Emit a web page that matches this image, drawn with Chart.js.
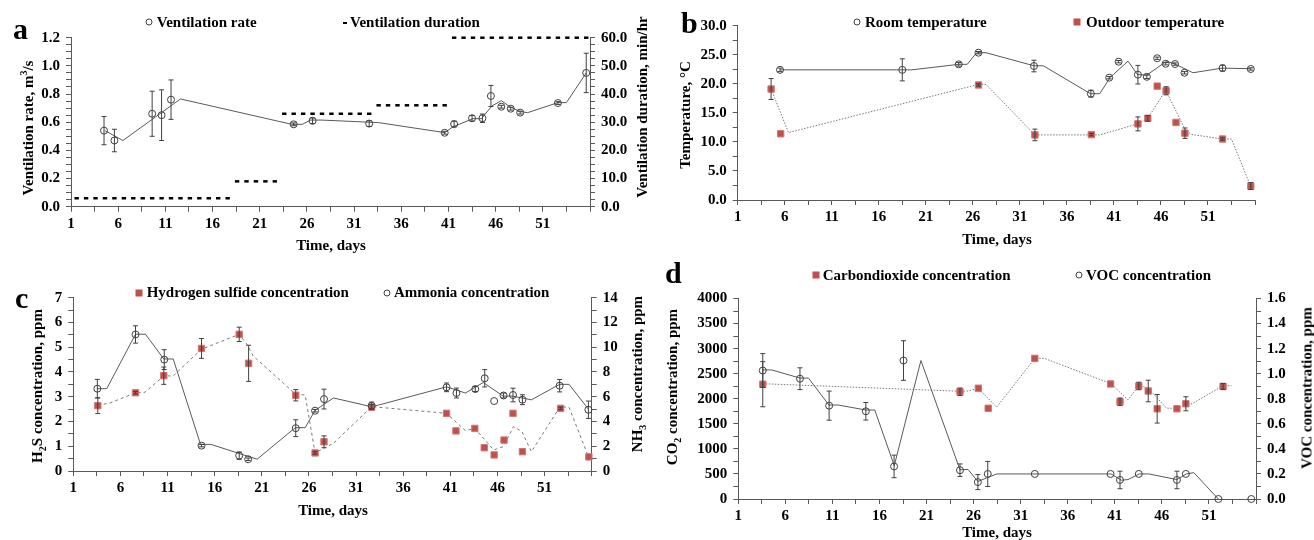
<!DOCTYPE html>
<html>
<head>
<meta charset="utf-8">
<script src="https://cdn.jsdelivr.net/npm/chart.js@4.4.1/dist/chart.umd.min.js"></script>
<style>
  body { margin: 0; background: #fff; }
  #wrap { position: relative; width: 1314px; height: 540px; overflow: hidden;
          font-family: "Liberation Serif", "Times New Roman", serif; font-weight: bold; color: #000; }
  canvas { position: absolute; }
  .t { position: absolute; font-size: 15px; line-height: 1; white-space: nowrap; }
  .h { transform: translateY(-50%); }
  .c { transform: translate(-50%, -50%); }
  .v { transform: translate(-50%, -50%) rotate(-90deg); }
  .letter { position: absolute; font-size: 30px; line-height: 1; }
  .mk { position: absolute; box-sizing: border-box; transform: translate(-50%, -50%); }
  .circ { width: 7px; height: 7px; border: 1px solid #404040; border-radius: 50%; }
  .sq { width: 7px; height: 7px; background: #c0504d; }
  .dash { width: 4px; height: 2px; background: #000; }
  sub, sup { font-size: 10px; line-height: 0; }
</style>
</head>
<body>
<div id="wrap">
  <canvas id="ca" width="660" height="240" style="left:0;top:0"></canvas>
  <canvas id="cb" width="654" height="240" style="left:660px;top:0"></canvas>
  <canvas id="cc" width="660" height="240" style="left:0;top:270px"></canvas>
  <canvas id="cd" width="654" height="270" style="left:660px;top:270px"></canvas>

  <!-- a -->
  <div class="letter" style="left:13px;top:14px">a</div>
  <div class="mk circ" style="left:149px;top:21.7px"></div>
  <div class="t h" style="left:156.7px;top:21.7px">Ventilation rate</div>
  <div class="mk dash" style="left:344.5px;top:22.7px"></div>
  <div class="t h" style="left:350px;top:21.7px">Ventilation duration</div>
  <div class="t v" style="left:28px;top:128px">Ventilation rate, m<sup>3</sup>/s</div>
  <div class="t v" style="left:641.5px;top:107px">Ventilation duration, min/hr</div>
  <div class="t c" style="left:331px;top:244.5px">Time, days</div>

  <!-- b -->
  <div class="letter" style="left:681px;top:8px">b</div>
  <div class="mk circ" style="left:857.3px;top:21.7px"></div>
  <div class="t h" style="left:865px;top:21.7px">Room temperature</div>
  <div class="mk sq" style="left:1077.3px;top:21.7px"></div>
  <div class="t h" style="left:1086px;top:21.7px">Outdoor temperature</div>
  <div class="t v" style="left:685px;top:115px">Temperature, °C</div>
  <div class="t c" style="left:997px;top:239px">Time, days</div>

  <!-- c -->
  <div class="letter" style="left:15px;top:283px">c</div>
  <div class="mk sq" style="left:139.3px;top:292.7px"></div>
  <div class="t h" style="left:146.7px;top:292px">Hydrogen sulfide concentration</div>
  <div class="mk circ" style="left:386.7px;top:292.7px"></div>
  <div class="t h" style="left:394px;top:292px">Ammonia concentration</div>
  <div class="t v" style="left:37.3px;top:386px">H<sub>2</sub>S concentration, ppm</div>
  <div class="t v" style="left:637px;top:374px">NH<sub>3</sub> concentration, ppm</div>
  <div class="t c" style="left:333px;top:510px">Time, days</div>

  <!-- d -->
  <div class="letter" style="left:665px;top:258px">d</div>
  <div class="mk sq" style="left:815.7px;top:275px"></div>
  <div class="t h" style="left:822.7px;top:275px">Carbondioxide concentration</div>
  <div class="mk circ" style="left:1079.3px;top:275px"></div>
  <div class="t h" style="left:1086px;top:275px">VOC concentration</div>
  <div class="t v" style="left:671.7px;top:387px">CO<sub>2</sub> concentration, ppm</div>
  <div class="t v" style="left:1307px;top:388px">VOC concentration, ppm</div>
  <div class="t c" style="left:997px;top:532px">Time, days</div>
</div>

<script>
// ---------- a: ventilation ----------
const rateDays = [4.5, 5.6, 9.6, 10.6, 11.6, 24.6, 26.6, 32.6, 40.6, 41.6, 43.5, 44.6, 45.5, 46.6, 47.6, 48.6, 52.6, 55.6];
const rateVals = [0.54, 0.47, 0.66, 0.65, 0.76, 0.585, 0.61, 0.59, 0.525, 0.587, 0.628, 0.628, 0.786, 0.71, 0.696, 0.668, 0.736, 0.95];
const rateErr  = [0.10, 0.08, 0.16, 0.18, 0.14, 0.01, 0.02, 0.02, 0.01, 0.02, 0.02, 0.03, 0.075, 0.01, 0.01, 0.01, 0.01, 0.14];
const rateLineDays = [4.6, 6.5, 12.6, 24.4, 25.5, 26.4, 27.6, 33.6, 40.6, 41.5, 43.6, 44.5, 45.6, 46.6, 47.5, 48.6, 49.4, 52.6, 53.5, 55.6];
const rateLineVals = [0.54, 0.47, 0.765, 0.585, 0.585, 0.615, 0.615, 0.597, 0.526, 0.568, 0.625, 0.625, 0.715, 0.753, 0.71, 0.675, 0.668, 0.739, 0.739, 0.95];
const durDays = [1.6, 2.6, 3.6, 4.6, 5.6, 6.6, 7.6, 8.6, 9.6, 10.6, 11.6, 12.6, 13.6, 14.6, 15.6, 16.6, 17.6,
                 18.6, 19.6, 20.6, 21.6, 22.6,
                 23.6, 24.6, 25.6, 26.6, 27.6, 28.6, 29.6, 30.6, 31.6, 32.6,
                 33.6, 34.6, 35.6, 36.6, 37.6, 38.6, 39.6, 40.6,
                 41.6, 42.6, 43.6, 44.6, 45.6, 46.6, 47.6, 48.6, 49.6, 50.6, 51.6, 52.6, 53.6, 54.6, 55.6];
const durVals = [3, 3, 3, 3, 3, 3, 3, 3, 3, 3, 3, 3, 3, 3, 3, 3, 3,
                 9, 9, 9, 9, 9,
                 33, 33, 33, 33, 33, 33, 33, 33, 33, 33,
                 36, 36, 36, 36, 36, 36, 36, 36,
                 60, 60, 60, 60, 60, 60, 60, 60, 60, 60, 60, 60, 60, 60, 60];

// ---------- b: temperature ----------
const roomDays = [5.5, 18.5, 24.5, 26.6, 32.5, 38.55, 40.5, 41.5, 43.55, 44.5, 45.6, 46.5, 47.5, 48.5, 52.55, 55.55];
const roomVals = [22.4, 22.4, 23.35, 25.35, 23.06, 18.3, 21.05, 23.8, 21.57, 21.2, 24.4, 23.45, 23.4, 21.9, 22.7, 22.55];
const roomErr  = [0.3, 1.9, 0.3, 0.2, 1.0, 0.6, 0.2, 0.2, 1.6, 0.3, 0.2, 0.2, 0.2, 0.2, 0.5, 0.2];
const roomLineDays = [5.5, 19.5, 24.5, 25.4, 26.4, 27.4, 32.5, 33.5, 38.5, 39.5, 40.6, 42.5, 43.5, 44.5, 46.6, 47.5, 49.4, 52.5, 55.5];
const roomLineVals = [22.4, 22.4, 23.35, 23.35, 25.35, 25.35, 23.1, 23.1, 18.3, 18.3, 21.1, 23.9, 21.6, 21.5, 23.9, 23.4, 21.9, 22.7, 22.6];
const outDays = [4.55, 5.57, 26.6, 32.6, 38.6, 43.55, 44.6, 45.6, 46.55, 47.6, 48.55, 52.55, 55.55];
const outVals = [19.1, 11.4, 19.8, 11.2, 11.25, 13.1, 14.05, 19.6, 18.8, 13.35, 11.5, 10.5, 2.4];
const outErr  = [1.8, 0, 0.2, 1.0, 0.2, 1.2, 0.5, 0, 0.7, 0, 0.9, 0.2, 0.6];
const outLineDays = [4.55, 6.4, 26.6, 27.4, 32.6, 39.5, 43.5, 44.6, 46.5, 48.55, 49.2, 52.5, 53.5, 55.5];
const outLineVals = [19.1, 11.6, 19.9, 19.9, 11.2, 11.2, 13.1, 14.05, 18.9, 12.2, 11.3, 10.5, 10.5, 2.5];

// ---------- c: H2S / NH3 ----------
const h2sDays = [3.6, 7.6, 10.6, 14.6, 18.6, 19.6, 24.6, 26.65, 27.6, 32.65, 40.6, 41.6, 43.6, 44.6, 45.65, 46.7, 47.65, 48.65, 52.7, 55.7];
const h2sVals = [2.64, 3.16, 3.85, 4.95, 5.52, 4.35, 3.06, 0.73, 1.18, 2.58, 2.33, 1.62, 1.72, 0.94, 0.65, 1.25, 2.33, 0.78, 2.53, 0.57];
const h2sErr  = [0.32, 0.05, 0.35, 0.4, 0.29, 0.73, 0.23, 0.05, 0.24, 0.1, 0, 0, 0, 0, 0, 0, 0, 0, 0.05, 0];
const h2sLineDays = [3.6, 4.9, 7.6, 8.6, 10.6, 11.6, 14.6, 18.6, 19.4, 20.1, 24.6, 25.6, 26.65, 28.6, 32.66, 40.6, 42.6, 43.6, 45.6, 46.6, 47.7, 48.6, 49.6, 52.65, 53.6, 55.65];
const h2sLineVals = [2.65, 2.75, 3.16, 3.18, 3.84, 3.84, 4.92, 5.52, 5.13, 4.64, 3.1, 3.07, 0.73, 1.12, 2.6, 2.33, 1.63, 1.72, 0.85, 0.98, 1.79, 1.59, 0.78, 2.6, 2.57, 0.58];
const nh3Days = [3.55, 7.6, 10.65, 14.6, 18.6, 19.55, 24.6, 26.65, 27.6, 32.65, 40.6, 41.65, 43.65, 44.65, 45.65, 46.65, 47.65, 48.65, 52.6, 55.65];
const nh3Vals = [6.65, 11.03, 9.0, 2.05, 1.24, 0.95, 3.46, 4.87, 5.81, 5.27, 6.76, 6.3, 6.62, 7.49, 5.65, 6.1, 6.14, 5.76, 6.89, 4.95];
const nh3Err  = [0.75, 0.7, 0.8, 0.1, 0.3, 0.1, 0.68, 0.1, 0.8, 0.3, 0.35, 0.4, 0.2, 0.7, 0, 0.2, 0.55, 0.4, 0.5, 0.7];
const nh3LineDays = [3.55, 4.55, 7.6, 8.65, 10.6, 11.6, 14.5, 15.6, 20.5, 24.55, 25.6, 26.65, 28.6, 32.6, 33.5, 40.6, 42.6, 44.5, 46.6, 47.6, 49.6, 52.6, 53.6, 55.65];
const nh3LineVals = [6.65, 6.65, 11.05, 11.05, 9.05, 9.05, 2.15, 2.15, 0.95, 3.5, 3.5, 4.9, 5.9, 5.2, 5.35, 6.8, 6.3, 7.15, 6.05, 6.05, 5.75, 7.0, 7.0, 5.0];

// ---------- d: CO2 / VOC ----------
const co2Days = [3.6, 24.55, 26.5, 27.55, 32.5, 40.55, 41.55, 43.55, 44.55, 45.5, 47.6, 48.55, 52.5];
const co2Vals = [2290, 2140, 2210, 1810, 2805, 2295, 1940, 2255, 2155, 1800, 1800, 1900, 2245];
const co2Err  = [450, 75, 0, 0, 0, 0, 75, 75, 215, 285, 0, 140, 60];
const co2LineDays = [3.6, 24.55, 25.4, 26.5, 28.45, 32.5, 33.5, 40.6, 42.4, 43.6, 44.6, 46.5, 47.6, 49.3, 52.5, 53.4];
const co2LineVals = [2300, 2150, 2155, 2210, 1830, 2806, 2806, 2300, 1976, 2275, 2200, 1811, 1811, 1910, 2260, 2260];
const vocDays = [3.6, 7.55, 10.65, 14.55, 17.55, 18.55, 24.55, 26.45, 27.5, 32.5, 40.55, 41.55, 43.55, 47.6, 48.55, 52.0, 55.5];
const vocVals = [1.025, 0.96, 0.745, 0.70, 0.26, 1.105, 0.23, 0.135, 0.2, 0.2, 0.2, 0.152, 0.2, 0.152, 0.2, 0, 0];
const vocErr  = [0.135, 0.087, 0.116, 0.07, 0.09, 0.158, 0.05, 0.06, 0.1, 0, 0, 0.07, 0, 0.07, 0, 0, 0];
const vocLineDays = [3.6, 4.55, 7.55, 8.45, 10.63, 11.6, 14.57, 15.5, 17.57, 20.4, 24.55, 25.4, 26.45, 28.45, 40.6, 41.7, 42.4, 43.6, 44.6, 47.6, 48.6, 49.4, 52.0];
const vocLineVals = [1.03, 1.03, 0.965, 0.965, 0.75, 0.75, 0.71, 0.71, 0.266, 1.105, 0.233, 0.236, 0.14, 0.2, 0.2, 0.15, 0.155, 0.2, 0.2, 0.155, 0.2, 0.21, 0];

// ---------- helpers ----------
const FONT = { family: 'Liberation Serif', size: 15, weight: 'bold' };
const AX = '#595959';
const RED = '#c0504d';

function near(v, step) { return Math.abs(v / step - Math.round(v / step)) < 1e-6; }
const pts = (xs, ys) => xs.map((x, i) => ({ x: x, y: ys[i] }));

function xAxis(h) {
    return {
        type: 'linear', min: 1, max: 56,
        border: { color: AX },
        grid: { drawOnChartArea: false, color: AX, tickLength: 5 },
        ticks: {
            stepSize: 2.5, autoSkip: false, maxRotation: 0, minRotation: 0, padding: 3, color: '#000', font: FONT,
            callback: v => (v < 55 && near(v - 1, 5)) ? String(Math.round(v)) : ''
        },
        afterFit: s => { s.height = h; }
    };
}

function yAxis(pos, min, max, step, labelStep, digits, w) {
    return {
        type: 'linear', position: pos, min: min, max: max,
        border: { color: AX },
        grid: { drawOnChartArea: false, color: AX, tickLength: 5 },
        ticks: {
            stepSize: step, autoSkip: false, padding: 6, color: '#000', font: FONT,
            callback: v => near(v, labelStep) ? v.toFixed(digits) : ''
        },
        afterFit: s => { s.width = w; }
    };
}

function circles(xs, ys, errs, axis) {
    return { data: pts(xs, ys), errors: errs, yAxisID: axis || 'y', showLine: false, clip: false,
        pointStyle: 'circle', pointRadius: 3.5, pointBorderWidth: 1,
        pointBorderColor: '#404040', pointBackgroundColor: 'rgba(255,255,255,0)' };
}
function squares(xs, ys, errs, axis) {
    return { data: pts(xs, ys), errors: errs, yAxisID: axis || 'y', showLine: false, clip: false,
        pointStyle: 'rect', pointRadius: 4.5, pointBorderWidth: 1,
        pointBorderColor: '#d27874', pointBackgroundColor: RED };
}
function trend(xs, ys, dash, axis) {
    return { data: pts(xs, ys), yAxisID: axis || 'y', showLine: true, clip: false,
        pointRadius: 0, borderWidth: 1, borderColor: dash.length ? '#7a7a7a' : '#595959', borderDash: dash };
}

// vertical error bars with small caps, drawn over the markers
const errorBars = {
    id: 'errorBars',
    afterDatasetsDraw(chart) {
        const ctx = chart.ctx;
        chart.data.datasets.forEach(ds => {
            if (!ds.errors) return;
            const xs = chart.scales.x, ys = chart.scales[ds.yAxisID];
            ctx.save();
            ctx.strokeStyle = '#404040';
            ctx.lineWidth = 1;
            ds.data.forEach((p, j) => {
                const e = ds.errors[j];
                if (!e) return;
                const px = xs.getPixelForValue(p.x);
                const top = ys.getPixelForValue(p.y + e), bot = ys.getPixelForValue(p.y - e);
                ctx.beginPath();
                ctx.moveTo(px, top); ctx.lineTo(px, bot);
                ctx.moveTo(px - 2.5, top); ctx.lineTo(px + 2.5, top);
                ctx.moveTo(px - 2.5, bot); ctx.lineTo(px + 2.5, bot);
                ctx.stroke();
            });
            ctx.restore();
        });
    }
};

function makeChart(id, datasets, scales, padding) {
    return new Chart(document.getElementById(id), {
        type: 'scatter',
        data: { datasets: datasets },
        options: {
            responsive: false, animation: false,
            layout: { padding: padding, autoPadding: false },
            plugins: { legend: { display: false }, tooltip: { enabled: false } },
            scales: scales
        },
        plugins: [errorBars]
    });
}

// a
makeChart('ca', [
    circles(rateDays, rateVals, rateErr),
    { data: pts(durDays, durVals), yAxisID: 'y1', showLine: false, clip: false,
      pointStyle: 'line', pointRadius: 2.2, pointBorderWidth: 2.5, pointBorderColor: '#000' },
    trend(rateLineDays, rateLineVals, [])
], {
    x: xAxis(33.3),
    y: yAxis('left', 0, 1.2, 0.05, 0.2, 1, 71),
    y1: yAxis('right', 0, 60, 2.5, 10, 1, 70)
}, { left: 0, right: 0, top: 37.7, bottom: 0 });

// b
makeChart('cb', [
    circles(roomDays, roomVals, roomErr),
    squares(outDays, outVals, outErr),
    trend(roomLineDays, roomLineVals, []),
    trend(outLineDays, outLineVals, [1.5, 1.5])
], {
    x: xAxis(40),
    y: yAxis('left', 0, 30, 2.5, 5, 1, 77.7)
}, { left: 0, right: 59, top: 25.7, bottom: 0 });

// c
makeChart('cc', [
    circles(nh3Days, nh3Vals, nh3Err, 'y1'),
    squares(h2sDays, h2sVals, h2sErr),
    trend(nh3LineDays, nh3LineVals, [], 'y1'),
    trend(h2sLineDays, h2sLineVals, [3, 3])
], {
    x: xAxis(39),
    y: yAxis('left', 0, 7, 0.5, 1, 0, 73.3),
    y1: yAxis('right', 0, 14, 1, 2, 0, 68.3)
}, { left: 0, right: 0, top: 27.7, bottom: 0 });

// d
makeChart('cd', [
    circles(vocDays, vocVals, vocErr, 'y1'),
    squares(co2Days, co2Vals, co2Err),
    trend(vocLineDays, vocLineVals, [], 'y1'),
    trend(co2LineDays, co2LineVals, [1.5, 1.5])
], {
    x: xAxis(41),
    y: yAxis('left', 0, 4000, 250, 500, 0, 78.3),
    y1: yAxis('right', 0, 1.6, 0.1, 0.2, 1, 58)
}, { left: 0, right: 0, top: 28.5, bottom: 0 });
</script>
</body>
</html>
